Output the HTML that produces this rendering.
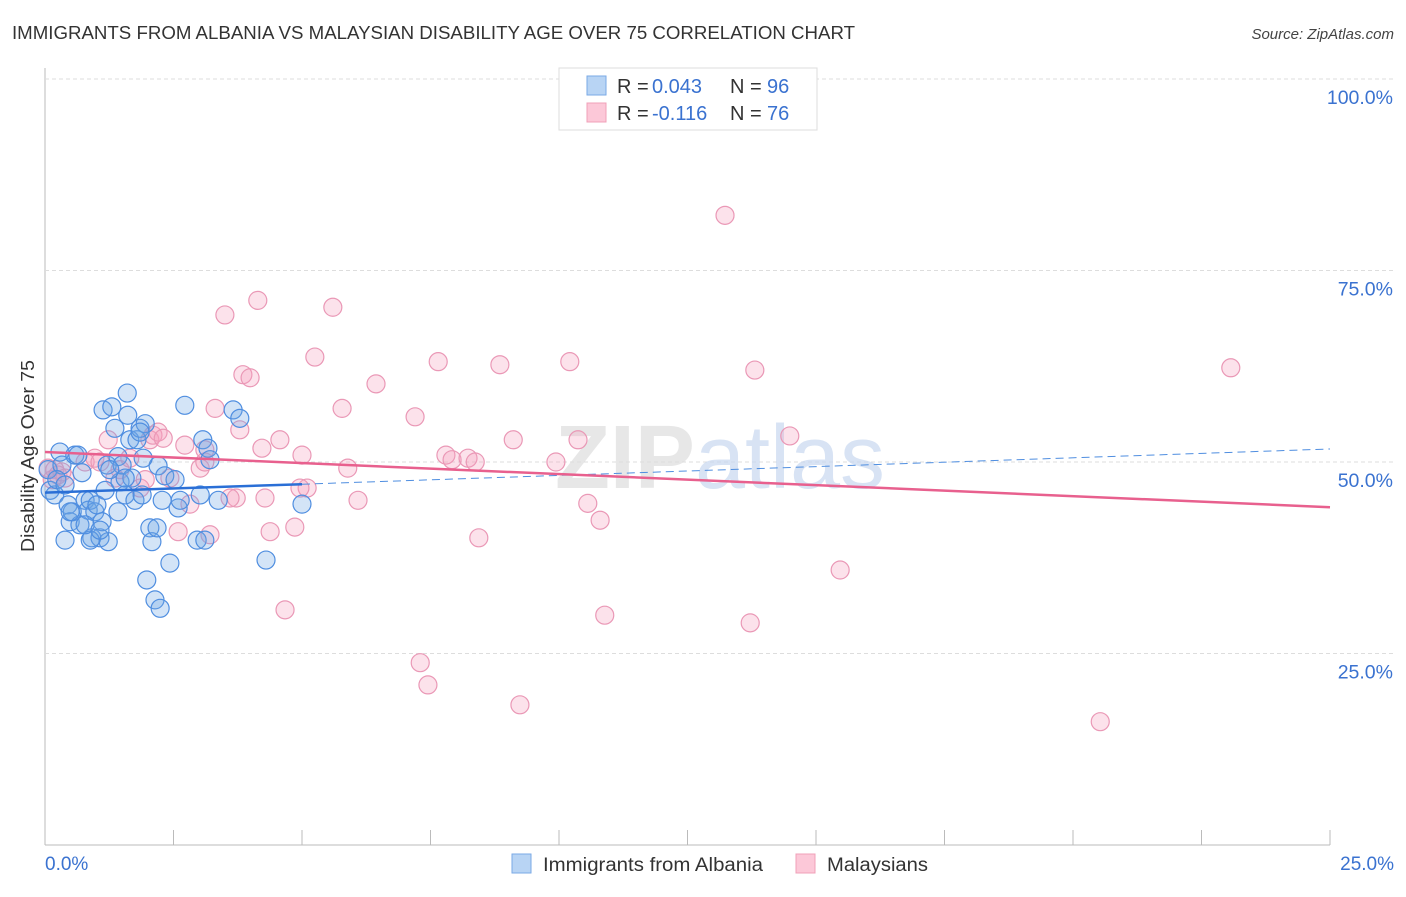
<!DOCTYPE html>
<html><head><meta charset="utf-8"><style>
body{margin:0;background:#fff;font-family:"Liberation Sans",sans-serif;}
svg text{font-family:"Liberation Sans",sans-serif;}
</style></head><body>
<svg id="chart" width="1406" height="892" xmlns="http://www.w3.org/2000/svg">
<text x="12" y="39" font-size="18" fill="#333" textLength="843" lengthAdjust="spacingAndGlyphs">IMMIGRANTS FROM ALBANIA VS MALAYSIAN DISABILITY AGE OVER 75 CORRELATION CHART</text>
<text x="1394" y="39" font-size="15" fill="#444" text-anchor="end" font-style="italic">Source: ZipAtlas.com</text>
<g id="grid"></g>
<text x="720" y="488" font-size="90" text-anchor="middle" fill="#ddd" opacity="0.7" font-family="Liberation Serif"><tspan font-weight="bold">ZIP</tspan><tspan fill="#c8d8f0" font-family="Liberation Sans">atlas</tspan></text>
<g id="pts"></g>
<g id="lines"></g>
<text transform="translate(34,456) rotate(-90)" font-size="18" fill="#333" text-anchor="middle" textLength="192" lengthAdjust="spacingAndGlyphs">Disability Age Over 75</text>
<g>
<rect x="559" y="68" width="258" height="62" fill="#fff" stroke="#ddd"/>
<rect x="587" y="76" width="19" height="19" fill="#b8d4f4" stroke="#7aaae6"/>
<rect x="587" y="103" width="19" height="19" fill="#fcc8d8" stroke="#f0a0b8"/>
<text x="617" y="93" font-size="20" fill="#333">R =</text>
<text x="652" y="93" font-size="20" fill="#3a72d0">0.043</text>
<text x="730" y="93" font-size="20" fill="#333">N =</text>
<text x="767" y="93" font-size="20" fill="#3a72d0">96</text>
<text x="617" y="120" font-size="20" fill="#333">R =</text>
<text x="652" y="120" font-size="20" fill="#3a72d0">-0.116</text>
<text x="730" y="120" font-size="20" fill="#333">N =</text>
<text x="767" y="120" font-size="20" fill="#3a72d0">76</text>
</g>
<g>
<rect x="512" y="854" width="19" height="19" fill="#b8d4f4" stroke="#7aaae6"/>
<text x="543" y="871" font-size="19" fill="#333" textLength="220" lengthAdjust="spacingAndGlyphs">Immigrants from Albania</text>
<rect x="796" y="854" width="19" height="19" fill="#fcc8d8" stroke="#f0a0b8"/>
<text x="827" y="871" font-size="19" fill="#333" textLength="101" lengthAdjust="spacingAndGlyphs">Malaysians</text>
</g>
</svg>
<script>
const blueX=[0.06,0.10,0.19,0.29,0.33,0.39,0.45,0.49,0.53,0.58,0.64,0.68,0.72,0.78,0.84,0.88,0.91,0.97,1.01,1.07,1.11,1.13,1.17,1.21,1.23,1.30,1.36,1.42,1.42,1.46,1.50,1.56,1.60,1.61,1.65,1.69,1.75,1.79,1.85,1.89,1.95,1.98,2.04,2.08,2.14,2.18,2.20,2.24,2.28,2.33,2.43,2.53,2.59,2.63,2.72,2.96,3.02,3.07,3.11,3.17,3.21,3.37,3.66,3.79,4.30,5.00,0.23,0.39,0.88,1.26,1.91,1.56,0.49,0.78,1.85,1.07];
const blueY=[49.0,46.3,45.7,51.3,49.6,39.8,44.4,42.2,43.5,50.9,50.9,41.8,48.6,45.0,43.7,45.0,40.1,43.5,44.4,40.1,42.2,56.8,46.3,49.6,39.6,57.2,54.4,50.7,43.5,47.4,49.6,45.7,59.0,56.1,52.9,47.9,45.0,52.9,54.4,45.7,55.0,34.6,41.4,39.6,32.0,41.4,49.5,30.9,45.0,48.2,36.8,47.7,44.0,45.0,57.4,39.8,45.7,52.9,39.8,51.8,50.3,45.0,56.8,55.7,37.2,44.5,47.7,47.0,39.8,49.0,50.5,47.9,43.5,41.8,53.9,41.1];
const pinkX=[0.06,0.14,0.19,0.25,0.33,0.39,0.78,0.97,1.07,1.23,1.36,1.46,1.65,1.85,1.95,2.04,2.10,2.20,2.30,2.43,2.59,2.72,2.82,3.02,3.11,3.21,3.31,3.50,3.72,3.79,3.85,3.99,4.14,4.22,4.28,4.38,4.57,4.67,4.86,5.00,5.10,5.25,5.60,5.78,5.89,6.09,6.44,7.20,7.30,7.45,7.65,7.80,7.92,8.23,8.37,8.44,8.85,9.11,9.24,9.94,10.21,10.37,10.56,10.80,10.89,13.23,13.72,13.81,14.49,15.47,20.53,23.07,4.96,3.60,3.11];
const pinkY=[49.2,47.7,49.0,48.3,48.7,47.9,50.0,50.5,50.0,52.9,47.9,49.0,50.5,46.6,47.7,52.9,53.5,53.9,53.1,47.9,40.9,52.2,44.5,49.2,50.0,40.5,57.0,69.2,45.3,54.2,61.4,61.0,71.1,51.8,45.3,40.9,52.9,30.7,41.5,50.9,46.6,63.7,70.2,57.0,49.2,45.0,60.2,55.9,23.8,20.9,63.1,50.9,50.3,50.5,50.0,40.1,62.7,52.9,18.3,50.0,63.1,52.9,44.6,42.4,30.0,82.2,29.0,62.0,53.4,35.9,16.1,62.3,46.6,45.3,51.6];
const blueTrendX=[0,5,25], blueTrendY=[46.0,47.1,51.7];
const pinkTrendX=[0,25], pinkTrendY=[51.3,44.1];
const yTicks=[25,50,75,100];
const xTickCount=10;
const NS="http://www.w3.org/2000/svg";
const X0=45,X1=1330,Y0=845,Y100=79;
const sx=v=>X0+(X1-X0)*v/25, sy=v=>Y0-(Y0-Y100)*v/100;
function mk(t,a,p){const e=document.createElementNS(NS,t);for(const k in a)e.setAttribute(k,a[k]);p.appendChild(e);return e;}
const g=document.getElementById('grid');
let ax=mk('line',{x1:X0,y1:68,x2:X0,y2:Y0,stroke:'#bbb'},g);


let bx=mk('line',{x1:X0,y1:Y0,x2:X1,y2:Y0,stroke:'#bbb'},g);


yTicks.forEach(v=>{
 const l=mk('line',{x1:X0,y1:sy(v),x2:1394,y2:sy(v),stroke:'#ddd','stroke-dasharray':'4,3'},g);
 
 
 const t=mk('text',{x:1393,y:sy(v)+25,'font-size':19.5,fill:'#3a72d0','text-anchor':'end'},g);
 t.textContent=v.toFixed(1)+'%';
 
 
});
for(let i=0;i<=xTickCount;i++){
 const x=sx(25*i/xTickCount);
 const l=mk('line',{x1:x,y1:830,x2:x,y2:Y0,stroke:'#bbb'},g);
 
 
}
const t0=mk('text',{x:45,y:870,'font-size':19,fill:'#3a72d0'},g);t0.textContent='0.0%';


const t1=mk('text',{x:1394,y:870,'font-size':19,fill:'#3a72d0','text-anchor':'end'},g);t1.textContent='25.0%';


const P=document.getElementById('pts');
pinkX.forEach((v,i)=>{const c=mk('circle',{cx:sx(v),cy:sy(pinkY[i]),r:9,fill:'rgba(244,160,190,0.3)',stroke:'#ea98b6','stroke-width':1.2},P);
 
 });
blueX.forEach((v,i)=>{const c=mk('circle',{cx:sx(v),cy:sy(blueY[i]),r:9,fill:'rgba(110,165,230,0.3)',stroke:'#4f8ee0','stroke-width':1.2},P);
 
 });
const L=document.getElementById('lines');
let l1=mk('line',{x1:sx(blueTrendX[1]),y1:sy(blueTrendY[1]),x2:sx(blueTrendX[2]),y2:sy(blueTrendY[2]),stroke:'#4f8ee0','stroke-width':1,'stroke-dasharray':'8,5'},L);


let l2=mk('line',{x1:sx(blueTrendX[0]),y1:sy(blueTrendY[0]),x2:sx(blueTrendX[1]),y2:sy(blueTrendY[1]),stroke:'#2a6fd6','stroke-width':2.5},L);


let l3=mk('line',{x1:sx(pinkTrendX[0]),y1:sy(pinkTrendY[0]),x2:sx(pinkTrendX[1]),y2:sy(pinkTrendY[1]),stroke:'#e8608e','stroke-width':2.5},L);


</script>
</body></html>
